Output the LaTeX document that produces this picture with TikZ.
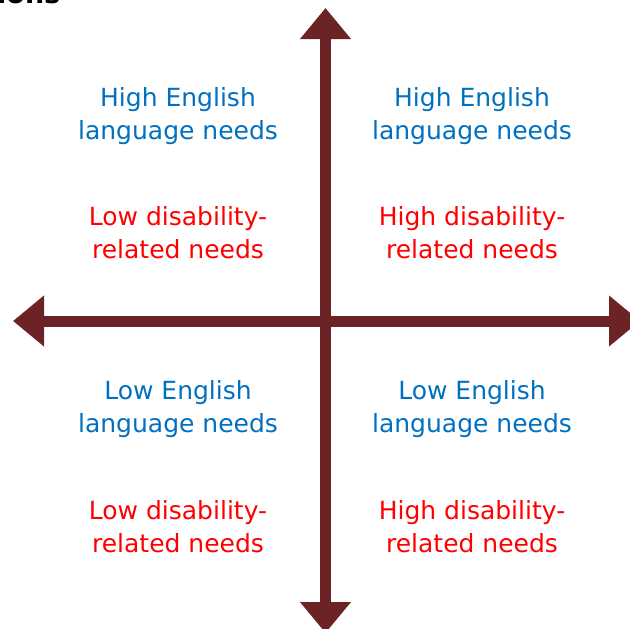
\documentclass[tikz,border=0pt]{standalone}
\usepackage{fontspec}
\setmainfont{DejaVu Sans}
\usetikzlibrary{arrows.meta}
\definecolor{axisred}{RGB}{107,35,37}
\definecolor{engblue}{RGB}{0,112,192}
\definecolor{disred}{RGB}{255,0,0}
\tikzset{
  axisline/.style={draw=axisred, line width=11pt,
    {Triangle[width=49pt,length=31pt]}-{Triangle[width=49pt,length=31pt]}},
  label/.style={font=\fontsize{25pt}{33pt}\selectfont, align=center, anchor=base, inner sep=0pt},
  eng/.style={label, text=engblue},
  dis/.style={label, text=disred}
}
\begin{document}
\begin{tikzpicture}[x=1pt,y=-1pt]
\useasboundingbox (0,0) rectangle (630,629);
\clip (0,0) rectangle (630,629);
\node[font=\fontsize{27pt}{30pt}\selectfont\bfseries, anchor=base west, inner sep=0pt] (title) at (-3,3) {ions};
\coordinate (N) at (325.5,8);
\coordinate (S) at (325.5,633);
\coordinate (W) at (13,321);
\coordinate (E) at (640,321);
\draw[axisline] (W) -- (E);
\draw[axisline] (S) -- (N);
\node[eng] (tlE) at (178,139) {High English\\language needs};
\node[dis] (tlD) at (178,258) {Low disability-\\related needs};
\node[eng] (trE) at (472,139) {High English\\language needs};
\node[dis] (trD) at (472,258) {High disability-\\related needs};
\node[eng] (blE) at (178,432) {Low English\\language needs};
\node[dis] (blD) at (178,552) {Low disability-\\related needs};
\node[eng] (brE) at (472,432) {Low English\\language needs};
\node[dis] (brD) at (472,552) {High disability-\\related needs};
\end{tikzpicture}
\end{document}
